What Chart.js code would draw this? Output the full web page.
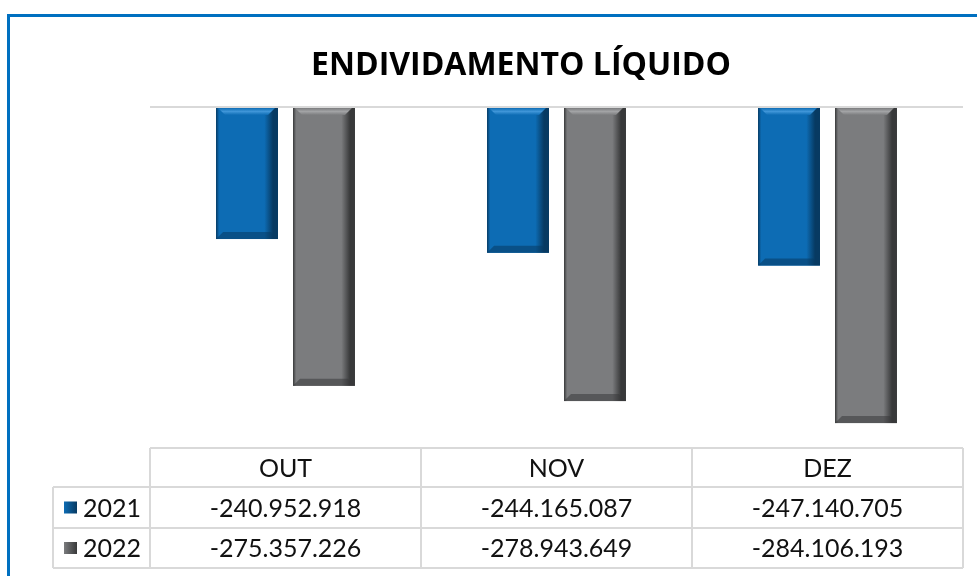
<!DOCTYPE html>
<html>
<head>
<meta charset="utf-8">
<script src="https://cdn.jsdelivr.net/npm/chart.js@4/dist/chart.umd.min.js"></script>
<style>
  html, body { margin: 0; padding: 0; background: #ffffff; }
  #wrap { width: 977px; height: 576px; position: relative; }
</style>
</head>
<body>
<div id="wrap"><canvas id="c" width="977" height="576"></canvas></div>
<script>
const chartTitle = 'ENDIVIDAMENTO LÍQUIDO';
const categories = ['OUT', 'NOV', 'DEZ'];
const seriesNames = ['2021', '2022'];
const values2021 = [-240952918, -244165087, -247140705];
const values2022 = [-275357226, -278943649, -284106193];
const axisMax = -210000000;
const axisMin = -289000000;

const baseColors = ['#0d6cb4', '#7b7c7e'];
const lightColors = ['#3f95d8', '#a2a3a5'];
const darkColors = ['#073a62', '#38393a'];

function fmt(v) {
  const neg = v < 0;
  let s = Math.abs(Math.round(v)).toString();
  s = s.replace(/\B(?=(\d{3})+(?!\d))/g, '.');
  return (neg ? '-' : '') + s;
}

const framePlugin = {
  id: 'frame',
  beforeDraw(chart) {
    const ctx = chart.ctx;
    ctx.save();
    ctx.fillStyle = '#ffffff';
    ctx.fillRect(0, 0, chart.width, chart.height);
    ctx.strokeStyle = '#0070c0';
    ctx.lineWidth = 3;
    ctx.strokeRect(8.5, 15.5, 1200, 1200);
    ctx.fillStyle = '#000000';
    ctx.font = 'bold 32px "Open Sans", "Noto Sans", sans-serif';
    ctx.textAlign = 'center';
    ctx.textBaseline = 'middle';
    ctx.fillText(chartTitle, 521, 66);
    ctx.restore();
  }
};

const bevelPlugin = {
  id: 'bevel',
  afterDatasetsDraw(chart) {
    const ctx = chart.ctx;
    const a = chart.chartArea;
    ctx.save();
    ctx.beginPath();
    ctx.rect(a.left, a.top, a.right - a.left, a.bottom - a.top);
    ctx.clip();
    chart.data.datasets.forEach((ds, di) => {
      const meta = chart.getDatasetMeta(di);
      meta.data.forEach(bar => {
        const w = bar.width;
        const l = bar.x - w / 2, r = bar.x + w / 2;
        const t = Math.min(bar.y, bar.base), b = Math.max(bar.y, bar.base);
        const g = ctx.createLinearGradient(l, 0, r, 0);
        g.addColorStop(0, darkColors[di]);
        g.addColorStop(0.05, baseColors[di]);
        g.addColorStop(0.78, baseColors[di]);
        g.addColorStop(0.92, darkColors[di]);
        g.addColorStop(1, darkColors[di]);
        ctx.fillStyle = g;
        ctx.fillRect(l, t, w, b - t);
        const bv = 7;
        const hg = ctx.createLinearGradient(0, t, 0, t + bv);
        hg.addColorStop(0, baseColors[di]);
        hg.addColorStop(0.5, lightColors[di]);
        hg.addColorStop(1, baseColors[di]);
        ctx.fillStyle = hg;
        ctx.beginPath();
        ctx.moveTo(l + 2, t); ctx.lineTo(r - 3, t); ctx.lineTo(r - bv - 3, t + bv); ctx.lineTo(l + bv + 2, t + bv);
        ctx.closePath(); ctx.fill();
        ctx.fillStyle = darkColors[di];
        ctx.globalAlpha = 0.55;
        ctx.beginPath();
        ctx.moveTo(l, b); ctx.lineTo(r, b); ctx.lineTo(r - bv, b - bv); ctx.lineTo(l + bv, b - bv);
        ctx.closePath(); ctx.fill();
        ctx.globalAlpha = 1;
      });
    });
    ctx.restore();
  }
};

const tablePlugin = {
  id: 'dataTable',
  afterDraw(chart) {
    const ctx = chart.ctx;
    const xs = chart.scales.x;
    const area = chart.chartArea;
    const colW = (area.right - area.left) / categories.length;
    const rows = [448, 487, 528, 568];
    const legendLeft = 53;
    ctx.save();
    ctx.strokeStyle = '#d9d9d9';
    ctx.lineWidth = 2;
    ctx.beginPath();
    ctx.moveTo(area.left, rows[0]); ctx.lineTo(area.right, rows[0]);
    for (let i = 1; i < rows.length; i++) {
      ctx.moveTo(legendLeft, rows[i]); ctx.lineTo(area.right, rows[i]);
    }
    for (let i = 0; i <= categories.length; i++) {
      const x = area.left + i * colW;
      ctx.moveTo(x, rows[0]); ctx.lineTo(x, rows[3]);
    }
    ctx.moveTo(legendLeft, rows[1]); ctx.lineTo(legendLeft, rows[3]);
    ctx.stroke();

    ctx.fillStyle = '#111111';
    ctx.font = '25px Lato, "Noto Sans", sans-serif';
    ctx.textAlign = 'center';
    ctx.textBaseline = 'middle';
    categories.forEach((c, i) => {
      const x = xs.getPixelForValue(i);
      ctx.fillText(c, x, (rows[0] + rows[1]) / 2 + 1);
      ctx.fillText(fmt(values2021[i]), x, (rows[1] + rows[2]) / 2 + 1);
      ctx.fillText(fmt(values2022[i]), x, (rows[2] + rows[3]) / 2 + 1);
    });
    seriesNames.forEach((n, i) => {
      const cy = (rows[i + 1] + rows[i + 2]) / 2;
      const g = ctx.createLinearGradient(64, 0, 77, 0);
      g.addColorStop(0, baseColors[i]);
      g.addColorStop(1, darkColors[i]);
      ctx.fillStyle = g;
      ctx.fillRect(64, cy - 6, 13, 12);
      ctx.fillStyle = '#111111';
      ctx.textAlign = 'left';
      ctx.fillText(n, 83, cy + 1);
    });
    ctx.restore();
  }
};

new Chart(document.getElementById('c'), {
  type: 'bar',
  data: {
    labels: categories,
    datasets: [
      { label: seriesNames[0], data: values2021, base: axisMax, backgroundColor: baseColors[0], borderWidth: 0 },
      { label: seriesNames[1], data: values2022, base: axisMax, backgroundColor: baseColors[1], borderWidth: 0 }
    ]
  },
  options: {
    responsive: false,
    animation: false,
    devicePixelRatio: 1,
    layout: { padding: { top: 107, left: 150, right: 14, bottom: 132 } },
    datasets: { bar: { categoryPercentage: 0.568, barPercentage: 0.805 } },
    plugins: {
      legend: { display: false },
      title: { display: false },
      tooltip: { enabled: false }
    },
    scales: {
      x: { display: false },
      y: {
        min: axisMin,
        max: axisMax,
        ticks: { display: false },
        border: { display: false },
        grid: {
          drawTicks: false,
          lineWidth: 2,
          color: (c) => (c.tick && c.tick.value === axisMax) ? '#d9d9d9' : 'rgba(0,0,0,0)'
        }
      }
    }
  },
  plugins: [framePlugin, bevelPlugin, tablePlugin]
});
</script>
</body>
</html>
